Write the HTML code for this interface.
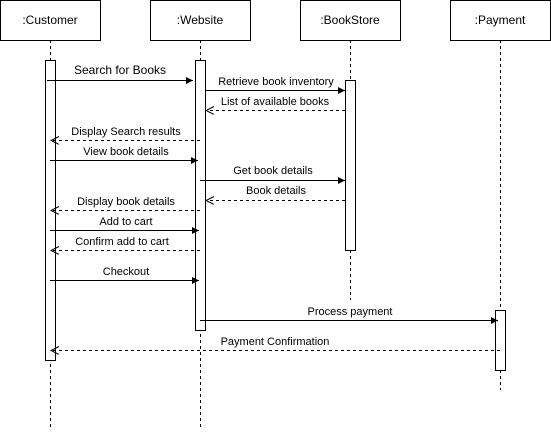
<!DOCTYPE html>
<html><head><style>body{margin:0;background:#fff}</style></head><body>
<svg width="551" height="431" xmlns="http://www.w3.org/2000/svg" font-family="Liberation Sans, Arial, sans-serif" font-size="11" fill="#000">
<defs>
<marker id="f" markerWidth="8" markerHeight="8" refX="7" refY="4" orient="auto" markerUnits="userSpaceOnUse"><path d="M0,0.5 L7,4 L0,7.5 Z" fill="#000"/></marker>
<marker id="o" markerWidth="10" markerHeight="10" refX="9" refY="4" orient="auto" markerUnits="userSpaceOnUse"><path d="M1,0 L9,4 L1,8" fill="none" stroke="#000"/></marker>
</defs>
<g stroke="#000" stroke-dasharray="3,3" fill="none">
<line x1="50.5" y1="40" x2="50.5" y2="428"/>
<line x1="200.5" y1="40" x2="200.5" y2="428"/>
<line x1="350.5" y1="40" x2="350.5" y2="300"/>
<line x1="500.5" y1="40" x2="500.5" y2="390"/>
</g>
<g stroke="#000" fill="#fff">
<rect x="0.5" y="0.5" width="100" height="40"/>
<rect x="150.5" y="0.5" width="100" height="40"/>
<rect x="300.5" y="0.5" width="100" height="40"/>
<rect x="450.5" y="0.5" width="100" height="40"/>
<rect x="45.5" y="60.5" width="10" height="300"/>
<rect x="195.5" y="60.5" width="10" height="270"/>
<rect x="345.5" y="80.5" width="10" height="170"/>
<rect x="495.5" y="310.5" width="10" height="60"/>
</g>
<g font-size="12" text-anchor="middle">
<text x="50" y="24">:Customer</text>
<text x="200" y="24">:Website</text>
<text x="350" y="24">:BookStore</text>
<text x="500" y="24">:Payment</text>
</g>
<g stroke="#000">
<line x1="47" y1="80.5" x2="193" y2="80.5" marker-end="url(#f)"/>
<line x1="205" y1="90.5" x2="345" y2="90.5" marker-end="url(#f)"/>
<line x1="50" y1="160.5" x2="198" y2="160.5" marker-end="url(#f)"/>
<line x1="200" y1="180.5" x2="345" y2="180.5" marker-end="url(#f)"/>
<line x1="50" y1="230.5" x2="199" y2="230.5" marker-end="url(#f)"/>
<line x1="50" y1="280.5" x2="199" y2="280.5" marker-end="url(#f)"/>
<line x1="200" y1="320.5" x2="498" y2="320.5" marker-end="url(#f)"/>
<g stroke-dasharray="3,3">
<line x1="345" y1="110.5" x2="206" y2="110.5" marker-end="url(#o)"/>
<line x1="200" y1="140.5" x2="51" y2="140.5" marker-end="url(#o)"/>
<line x1="345" y1="200.5" x2="206" y2="200.5" marker-end="url(#o)"/>
<line x1="200" y1="210.5" x2="51" y2="210.5" marker-end="url(#o)"/>
<line x1="200" y1="250.5" x2="51" y2="250.5" marker-end="url(#o)"/>
<line x1="500" y1="350.5" x2="51" y2="350.5" marker-end="url(#o)"/>
</g>
</g>
<g text-anchor="middle">
<text x="120" y="74" font-size="12">Search for Books</text>
<text x="276" y="85">Retrieve book inventory</text>
<text x="275" y="105">List of available books</text>
<text x="126" y="135">Display Search results</text>
<text x="126" y="155">View book details</text>
<text x="273" y="174">Get book details</text>
<text x="276" y="194">Book details</text>
<text x="126" y="205">Display book details</text>
<text x="126" y="225">Add to cart</text>
<text x="122" y="245">Confirm add to cart</text>
<text x="126" y="275">Checkout</text>
<text x="350" y="315">Process payment</text>
<text x="275" y="345">Payment Confirmation</text>
</g>
</svg>
</body></html>
